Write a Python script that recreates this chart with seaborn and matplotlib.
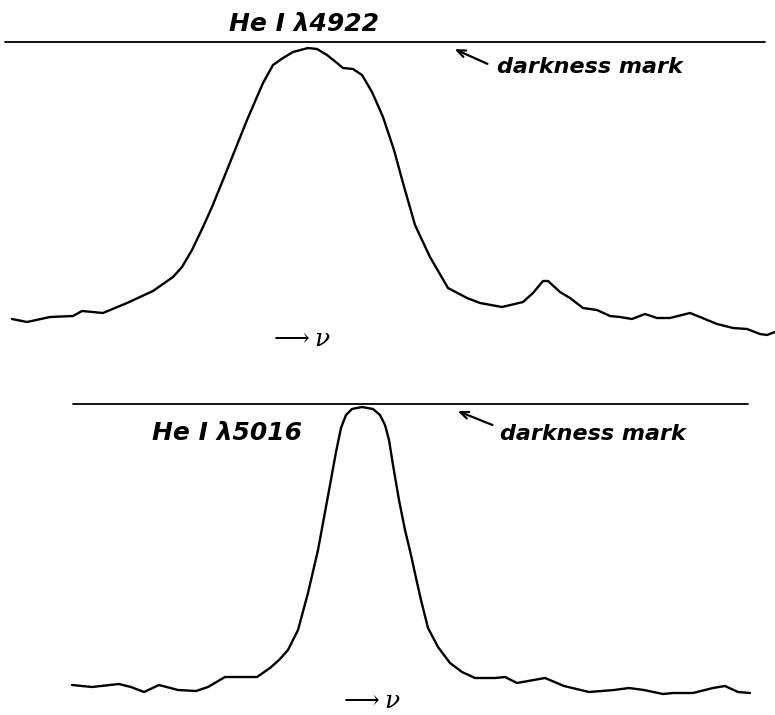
import matplotlib
matplotlib.use("Agg")
import matplotlib.pyplot as plt
import seaborn as sns
import pandas as pd

# traced densitometer profiles (picture pixel coordinates, y grows downward)
top_x = [12, 27, 50, 73, 82, 103, 127, 153, 173, 182, 192, 203, 212, 223, 247, 263,
         273, 283, 293, 308, 317, 327, 337, 343, 353, 362, 372, 383, 394, 403, 415,
         430, 448, 467, 480, 502, 523, 533, 543, 548, 560, 570, 583, 597, 610, 620,
         632, 645, 657, 670, 690, 700, 717, 733, 747, 760, 767, 775]
top_y = [319, 322, 317, 316, 311, 313, 303, 291, 277, 267, 250, 227, 207, 180, 120, 83,
         65, 58, 52, 48, 49, 55, 63, 68, 69, 75, 92, 117, 150, 183, 225,
         257, 288, 298, 303, 307, 302, 293, 281, 281, 292, 298, 308, 310, 316, 317,
         319, 314, 318, 318, 313, 317, 324, 328, 329, 334, 335, 332]

bot_x = [72, 92, 119, 131, 144, 159, 178, 196, 208, 225, 243, 257, 270, 279, 288, 298,
         308, 318, 323, 330, 336, 341, 346, 352, 362, 373, 380, 385, 389, 393, 399,
         405, 411, 416, 421, 428, 438, 450, 462, 475, 495, 505, 517, 545, 564, 589,
         614, 629, 644, 663, 673, 693, 713, 725, 738, 750]
bot_y = [685, 687, 684, 687, 692, 685, 690, 691, 687, 677, 677, 677, 668, 660, 650, 630,
         593, 550, 523, 485, 452, 428, 415, 409, 407, 409, 415, 425, 440, 465, 500,
         530, 555, 578, 600, 628, 647, 663, 672, 678, 678, 677, 683, 678, 686, 692,
         690, 688, 690, 694, 693, 693, 688, 686, 692, 693]

# darkness mark levels
mark_x = [[5, 765], [73, 748]]
mark_y = [42, 404]

labels = ["He I \u03bb4922", "He I \u03bb5016"]

sns.set_style("white")
plt.rcParams["mathtext.fontset"] = "dejavuserif"
plt.rcParams["text.color"] = "black"

fig = plt.figure(figsize=(7.75, 7.15), dpi=100)
ax = fig.add_axes([0, 0, 1, 1])

top = pd.DataFrame({"x": top_x, "y": top_y})
bot = pd.DataFrame({"x": bot_x, "y": bot_y})
for prof in (top, bot):
    sns.lineplot(data=prof, x="x", y="y", sort=False, estimator=None, color="black",
                 linewidth=1.7, ax=ax)
for line in ax.lines:
    line.set_solid_joinstyle("round")
for xs, yv in zip(mark_x, mark_y):
    ax.plot(xs, [yv, yv], color="black", linewidth=1.3)

lab = dict(ha="left", va="center", fontweight="bold", fontstyle="italic",
           color="black")
ax.text(229, 24, labels[0], fontsize=18, **lab)
ax.text(152, 433, labels[1], fontsize=18, **lab)
ax.text(497, 67, "darkness mark", fontsize=16, **lab)
ax.text(500, 434, "darkness mark", fontsize=16, **lab)

arrow = dict(arrowstyle="->,head_length=0.6,head_width=0.25", color="black", lw=1.6)
ax.annotate("", xy=(452, 48), xytext=(490, 65), arrowprops=arrow)
ax.annotate("", xy=(455, 410), xytext=(495, 426), arrowprops=arrow)

ax.text(300, 339, r"$\longrightarrow \nu$", fontsize=18, ha="center", va="center",
        color="black")
ax.text(370, 701, r"$\longrightarrow \nu$", fontsize=18, ha="center", va="center",
        color="black")

ax.set_xlim(0, 775)
ax.set_ylim(715, 0)
ax.axis("off")

plt.savefig("out.png", dpi=100)
plt.close()
